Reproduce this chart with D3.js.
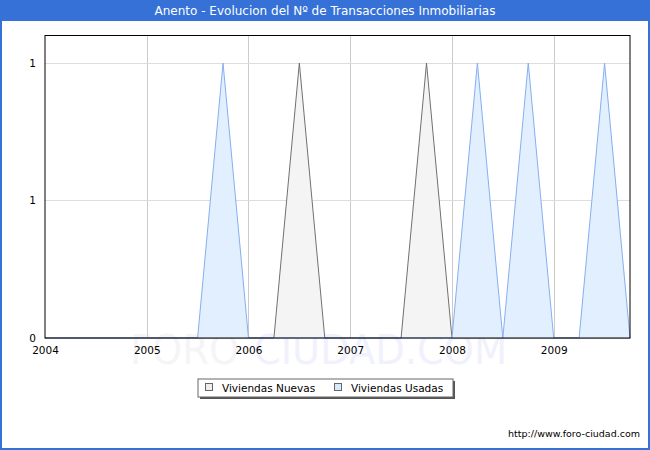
<!DOCTYPE html>
<html>
<head>
<meta charset="utf-8">
<script src="https://cdn.jsdelivr.net/npm/d3@7"></script>
<style>
  body { margin: 0; background: #fff; }
  svg { display: block; font-family: "DejaVu Sans", Verdana, sans-serif; }
</style>
</head>
<body>
<svg id="chart" width="650" height="450"></svg>
<script>
// quarterly points, 2004 Q1 .. 2009 Q4
const quarters = d3.range(24).map(i => 2004 + i * 0.25);
const nuevas = [0, 0, 0, 0, 0, 0, 0, 0, 0, 0, 1, 0, 0, 0, 0, 1, 0, 0, 0, 0, 0, 0, 0, 0];
const usadas = [0, 0, 0, 0, 0, 0, 0, 1, 0, 0, 0, 0, 0, 0, 0, 0, 0, 1, 0, 1, 0, 0, 1, 0];
const seriesNames = ["Viviendas Nuevas", "Viviendas Usadas"];
const xTickValues = [2004, 2005, 2006, 2007, 2008, 2009];
const yTickValues = [0, 0.5, 1];
const yTickLabels = ["0", "1", "1"];

const svg = d3.select("#chart");
const W = 650, H = 450;
const margin = { top: 35.5, right: 20, bottom: 112, left: 45 };

// outer frame + title bar
svg.append("rect").attr("x", 1).attr("y", 1).attr("width", W - 2).attr("height", H - 2)
    .attr("fill", "#fff").attr("stroke", "#3571d7").attr("stroke-width", 2);
svg.append("rect").attr("x", 0).attr("y", 0).attr("width", W).attr("height", 21).attr("fill", "#3571d7");
svg.append("text").attr("x", W / 2).attr("y", 15).attr("text-anchor", "middle")
    .attr("fill", "#fff").attr("font-size", "12px")
    .text("Anento - Evolucion del Nº de Transacciones Inmobiliarias");

const x = d3.scaleLinear().domain([2004, 2009.75]).range([margin.left, W - margin.right]);
const y = d3.scaleLinear().domain([0, 1.1]).range([H - margin.bottom, margin.top]);

// watermark
const wm = svg.append("text").attr("x", 130).attr("y", 364)
    .attr("font-size", "40px").attr("textLength", 377).attr("lengthAdjust", "spacingAndGlyphs");
wm.append("tspan").attr("fill", "#f5f5f7").text("FORO-");
wm.append("tspan").attr("fill", "#f1f1fd").text("CIUDAD.COM");

// gridlines
svg.append("g").selectAll("line").data(xTickValues.slice(1)).join("line")
    .attr("x1", d => Math.round(x(d)) + 0.5).attr("x2", d => Math.round(x(d)) + 0.5)
    .attr("y1", y.range()[1]).attr("y2", y.range()[0])
    .attr("stroke", "#cccccc");
svg.append("g").selectAll("line").data(yTickValues.slice(1)).join("line")
    .attr("x1", x.range()[0]).attr("x2", x.range()[1])
    .attr("y1", d => Math.round(y(d)) + 0.5).attr("y2", d => Math.round(y(d)) + 0.5)
    .attr("stroke", "#dddddd");

// areas
const area = d3.area().x((d, i) => x(quarters[i])).y0(y(0)).y1(d => y(d));
const line = d3.line().x((d, i) => x(quarters[i])).y(d => y(d));
const styles = [
    { fill: "#f4f4f4", stroke: "#707070" },
    { fill: "#e1efff", stroke: "#86aef0" }
];
[nuevas, usadas].forEach((vals, k) => {
    svg.append("path").datum(vals).attr("d", area).attr("fill", styles[k].fill);
    svg.append("path").datum(vals).attr("d", line).attr("fill", "none")
        .attr("stroke", styles[k].stroke).attr("stroke-width", 1);
});

// plot frame
svg.append("rect").attr("x", x.range()[0]).attr("y", y.range()[1])
    .attr("width", x.range()[1] - x.range()[0]).attr("height", y.range()[0] - y.range()[1])
    .attr("fill", "none").attr("stroke", "#000").attr("stroke-width", 1);

// axes
const xAxis = d3.axisBottom(x).tickValues(xTickValues).tickFormat(d3.format("d")).tickSize(0).tickPadding(9);
svg.append("g").attr("transform", `translate(0,${y(0)})`).call(xAxis)
    .call(g => g.select(".domain").remove())
    .selectAll("text").attr("font-size", "10.5px").attr("font-family", "DejaVu Sans").attr("fill", "#000");

const yAxis = d3.axisLeft(y).tickValues(yTickValues).tickFormat((d, i) => yTickLabels[i]).tickSize(0).tickPadding(9);
svg.append("g").attr("transform", `translate(${x.range()[0]},0)`).call(yAxis)
    .call(g => g.select(".domain").remove())
    .selectAll("text").attr("font-size", "10.5px").attr("font-family", "DejaVu Sans").attr("fill", "#000");

// legend
const lg = svg.append("g").attr("transform", "translate(198,379)");
lg.append("rect").attr("x", 2).attr("y", 2).attr("width", 255).attr("height", 18).attr("fill", "#555");
lg.append("rect").attr("x", 0).attr("y", 0).attr("width", 255).attr("height", 18)
    .attr("fill", "#fff").attr("stroke", "#666");
const legendItems = [
    { name: seriesNames[0], fill: "#eeeeee", dx: 7, tx: 24 },
    { name: seriesNames[1], fill: "#d6eaff", dx: 136, tx: 153 }
];
legendItems.forEach(it => {
    lg.append("rect").attr("x", it.dx + 0.5).attr("y", 4.5).attr("width", 7).attr("height", 7)
        .attr("fill", it.fill).attr("stroke", "#666");
    lg.append("text").attr("x", it.tx).attr("y", 12.5).attr("font-size", "10.5px").text(it.name);
});

// source url
svg.append("text").attr("x", 640).attr("y", 437).attr("text-anchor", "end")
    .attr("font-size", "9.5px").text("http://www.foro-ciudad.com");
</script>
</body>
</html>
